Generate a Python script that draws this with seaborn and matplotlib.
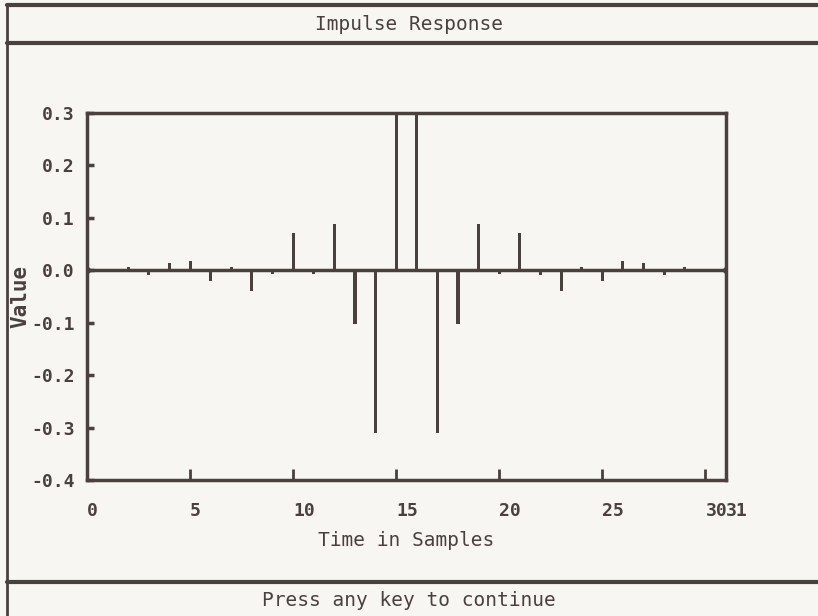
# Impulse response stem plot, old DOS screen look

import pandas as pd
import matplotlib.pyplot as plt
import seaborn as sns
from matplotlib.lines import Line2D

# data
samples = list(range(32))
values = [0.0, -0.003, 0.006, -0.009, 0.013, 0.018, -0.02, 0.007,
          -0.039, -0.008, 0.071, -0.008, 0.089, -0.102, -0.31, 0.30,
          0.30, -0.31, -0.102, 0.089, -0.008, 0.071, -0.009, -0.039,
          0.006, -0.02, 0.018, 0.013, -0.009, 0.006, -0.003, 0.0]
xtick_vals = [0, 5, 10, 15, 20, 25, 30, 31]
ytick_vals = [-0.4, -0.3, -0.2, -0.1, 0.0, 0.1, 0.2, 0.3]

df = pd.DataFrame({'sample': samples, 'value': values})

ink = '#4a403e'
paper = '#f8f6f3'

sns.set_theme(style='white')
plt.rcParams['font.family'] = ['DejaVu Sans Mono', 'DejaVu Sans']

fig = plt.figure(figsize=(8.18, 6.16), dpi=100, facecolor=paper)
ax = fig.add_axes([87 / 818, 1 - 480 / 616, 639 / 818, 367 / 616])
ax.set_facecolor(paper)

# stems
sns.barplot(data=df, x='sample', y='value', native_scale=True, width=0.15,
            color=ink, saturation=1, edgecolor='none', ax=ax)
ax.axhline(0, color=ink, lw=2.5, zorder=3)
ax.plot([0, 31], [0, 0], 'o', color=ink, ms=4, zorder=4)

ax.set_xlim(0, 31)
ax.set_ylim(-0.4, 0.3)

for s in ax.spines.values():
    s.set_color(ink)
    s.set_linewidth(2.5)

ax.set_xticks(xtick_vals)
ax.set_xticklabels([str(v) for v in xtick_vals], ha='left')
ax.set_yticks(ytick_vals)
ax.set_yticklabels([f'{v:.1f}' for v in ytick_vals])
ax.tick_params(axis='x', direction='in', length=8, width=2, color=ink,
               labelcolor=ink, labelsize=13, pad=16, bottom=True)
ax.tick_params(axis='y', direction='in', length=5, width=2.5, color=ink,
               labelcolor=ink, labelsize=13, pad=9, left=True)
for lab in ax.get_xticklabels() + ax.get_yticklabels():
    lab.set_fontweight('bold')

ax.set_xlabel('Time in Samples', fontsize=14, color=ink, labelpad=8)
ax.set_ylabel('Value', fontsize=15, color=ink, fontweight='bold')
ax.yaxis.set_label_coords(-0.088, 0.5)

# screen frame and bars
def hline(y, x0=7, x1=818, lw=3):
    fig.add_artist(Line2D([x0 / 818, x1 / 818], [1 - y / 616, 1 - y / 616],
                          color=ink, lw=lw, transform=fig.transFigure))

hline(5)
hline(43)
hline(582)
fig.add_artist(Line2D([7 / 818, 7 / 818], [1 - 5 / 616, 0], color=ink, lw=2,
                      transform=fig.transFigure))

fig.text(409 / 818, 1 - 24 / 616, 'Impulse Response', ha='center', va='center',
         fontsize=14, color=ink)
fig.text(409 / 818, 1 - 600 / 616, 'Press any key to continue', ha='center',
         va='center', fontsize=14, color=ink)

plt.savefig('out.png', dpi=100, facecolor=paper)
